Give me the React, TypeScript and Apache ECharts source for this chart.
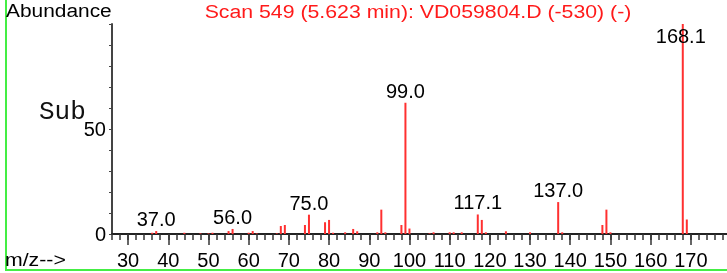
import React, { useEffect, useRef } from "react";
import * as echarts from "echarts";

// m/z values of the spectrum peaks
const mz = [36, 37, 44, 48, 50, 51, 55, 56, 60, 61, 62, 67, 68, 69, 74, 75, 79, 80, 81, 84, 86, 87, 92, 93, 94, 98, 99, 100, 105, 106, 110, 111, 113, 117, 118, 119, 124, 130, 137, 138, 148, 149, 150, 168, 169];
// relative abundance of each peak
const abundance = [0.6, 1.4, 0.6, 0.3, 0.3, 0.6, 1.4, 2.4, 0.6, 1.4, 0.3, 0.3, 3.8, 4.3, 4.3, 9.2, 5.6, 6.7, 0.6, 0.8, 2.4, 1.3, 0.8, 11.6, 0.8, 4.3, 62.5, 2.6, 0.3, 0.8, 0.8, 0.8, 0.8, 9.3, 6.7, 0.8, 1.3, 0.8, 15.2, 0.8, 4.3, 11.6, 0.8, 100, 6.9];
// annotated peaks
const labeledMz = [37, 56, 75, 99, 117, 137, 168];
const labelTexts = ["37.0", "56.0", "75.0", "99.0", "117.1", "137.0", "168.1"];
// axis ticks
const xMajorTicks = [30, 40, 50, 60, 70, 80, 90, 100, 110, 120, 130, 140, 150, 160, 170];
const xMinorTicks: number[] = [];
for (let v = 26; v <= 178; v += 2) xMinorTicks.push(v);
const yTickLabels = [0, 50];

const TITLE = "Scan 549 (5.623 min): VD059804.D (-530) (-)";
const SANS = "Liberation Sans, Arial, sans-serif";

export default function App() {
  const ref = useRef<HTMLDivElement>(null);
  useEffect(() => {
    if (!ref.current) return;
    const chart = echarts.init(ref.current, null, { renderer: "svg" });
    const data = mz.map((m, i) => {
      const li = labeledMz.indexOf(m);
      const item: any = { value: [m, abundance[i]] };
      if (li >= 0) {
        item.label = {
          show: true,
          position: "top",
          distance: 2,
          formatter: labelTexts[li],
          fontSize: 20,
          color: "#000",
          fontFamily: SANS,
          offset: m === 168 ? [-2, 24] : [0, 0],
        };
      }
      return item;
    });
    chart.setOption({
      animation: false,
      grid: { left: 112, right: 0, top: 24, bottom: 39, containLabel: false },
      xAxis: [
        {
          type: "value",
          min: 26,
          max: 179,
          position: "bottom",
          axisLine: { show: true, lineStyle: { color: "#222", width: 2 } },
          axisTick: { show: true, customValues: xMinorTicks, length: 6, lineStyle: { color: "#333", width: 1.5 } },
          axisLabel: { show: false },
          splitLine: { show: false },
        },
        {
          type: "value",
          min: 26,
          max: 179,
          position: "bottom",
          axisLine: { show: false },
          axisTick: { show: true, customValues: xMajorTicks, length: 11, lineStyle: { color: "#333", width: 1.5 } },
          axisLabel: { show: true, customValues: xMajorTicks, fontSize: 20, color: "#000", fontFamily: SANS, margin: 16 },
          splitLine: { show: false },
        },
      ],
      yAxis: {
        type: "value",
        min: 0,
        max: 100,
        interval: 10,
        axisLine: { show: true, lineStyle: { color: "#444", width: 2 } },
        axisTick: { show: true, length: 3, lineStyle: { color: "#444" } },
        axisLabel: {
          formatter: (v: number) => (yTickLabels.indexOf(v) >= 0 ? String(v) : ""),
          fontSize: 20,
          color: "#000",
          fontFamily: SANS,
          margin: 6,
        },
        splitLine: { show: false },
      },
      series: [
        {
          type: "bar",
          xAxisIndex: 0,
          data,
          barWidth: 2,
          itemStyle: { color: "#ff3030" },
          label: { show: false },
        },
      ],
      graphic: [
        {
          type: "rect",
          shape: { x: 6, y: -10, width: 760, height: 280 },
          style: { fill: "none", stroke: "#44ee44", lineWidth: 2 },
          silent: true,
        },
        {
          type: "text",
          x: 6,
          y: 10,
          scaleX: 1.1,
          style: { text: "Abundance", fontSize: 19, fontFamily: SANS, fill: "#000", textVerticalAlign: "middle" },
        },
        {
          type: "text",
          x: 418,
          y: 11,
          scaleX: 1.12,
          style: { text: TITLE, fontSize: 19, fontFamily: SANS, fill: "#ff1a1a", textAlign: "center", textVerticalAlign: "middle" },
        },
        {
          type: "text",
          x: 5,
          y: 259,
          scaleX: 1.12,
          style: { text: "m/z-->", fontSize: 19, fontFamily: SANS, fill: "#000", textVerticalAlign: "middle" },
        },
        {
          type: "text",
          x: 39,
          y: 112,
          style: { text: "Sub", fontSize: 26, fontFamily: "Liberation Mono, Courier New, monospace", fill: "#111", textVerticalAlign: "middle" },
        },
      ],
    });
    return () => chart.dispose();
  }, []);
  return <div ref={ref} style={{ position: "fixed", left: 0, top: 0, width: 727, height: 273 }} />;
}
